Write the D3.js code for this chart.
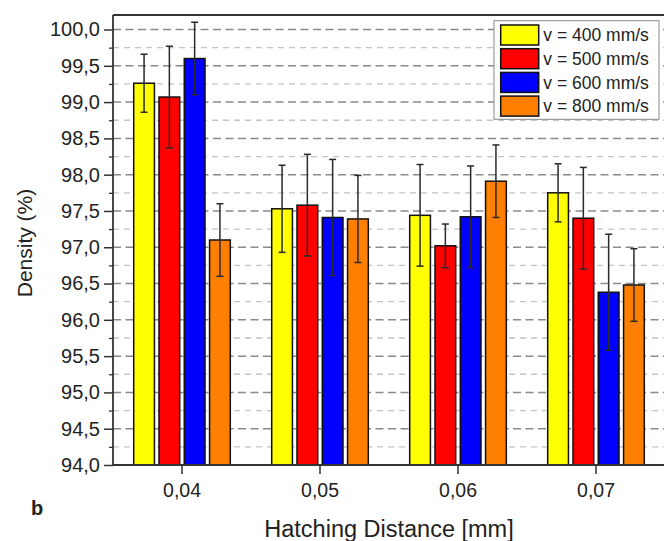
<!DOCTYPE html>
<html><head><meta charset="utf-8">
<script src="https://cdn.jsdelivr.net/npm/d3@7"></script>
<style>html,body{margin:0;padding:0;background:#fff;overflow:hidden}</style>
</head><body>
<svg id="c" width="664" height="541"></svg>
<script>
const categories = ["0,04", "0,05", "0,06", "0,07"];
const seriesNames = ["v = 400 mm/s", "v = 500 mm/s", "v = 600 mm/s", "v = 800 mm/s"];
const seriesColors = ["#ffff00", "#ff0000", "#0000ff", "#ff8000"];
const v400 = [99.26, 97.53, 97.44, 97.75];
const v500 = [99.07, 97.58, 97.02, 97.40];
const v600 = [99.60, 97.41, 97.42, 96.38];
const v800 = [97.10, 97.39, 97.91, 96.48];
const e400 = [0.40, 0.60, 0.70, 0.40];
const e500 = [0.70, 0.70, 0.30, 0.70];
const e600 = [0.50, 0.80, 0.70, 0.80];
const e800 = [0.50, 0.60, 0.50, 0.50];
const yMajorTicks = [94, 94.5, 95, 95.5, 96, 96.5, 97, 97.5, 98, 98.5, 99, 99.5, 100];
const yMinorTicks = [94.25, 94.75, 95.25, 95.75, 96.25, 96.75, 97.25, 97.75, 98.25, 98.75, 99.25, 99.75];

const values = [v400, v500, v600, v800];
const errors = [e400, e500, e600, e800];

const font = "'Liberation Sans', Arial, sans-serif";
const svg = d3.select("#c");
const L = 113, R = 665, T = 15, B = 465;

const x0 = d3.scaleBand().domain(categories).range([L, R]).paddingInner(0.3).paddingOuter(0.15);
const x1 = d3.scaleBand().domain(seriesNames).range([0, x0.bandwidth()]).paddingInner(0.18);
const y = d3.scaleLinear().domain([94, 100.2]).range([B, T]);
const fmt = v => d3.format(".1f")(v).replace(".", ",");

// grid lines
svg.append("g").selectAll("line").data(yMinorTicks).join("line")
  .attr("x1", L).attr("x2", R).attr("y1", d => y(d)).attr("y2", d => y(d))
  .attr("stroke", "#c4c4c4").attr("stroke-width", 1.3).attr("stroke-dasharray", "6,5");
svg.append("g").selectAll("line").data(yMajorTicks.filter(d => d > 94)).join("line")
  .attr("x1", L).attr("x2", R).attr("y1", d => y(d)).attr("y2", d => y(d))
  .attr("stroke", "#8a8a8a").attr("stroke-width", 1.5).attr("stroke-dasharray", "8,4.5");

// bars
const rows = [];
categories.forEach((c, i) => seriesNames.forEach((s, j) => rows.push({c, s, j, v: values[j][i], e: errors[j][i]})));
const g = svg.append("g");
g.selectAll("rect").data(rows).join("rect")
  .attr("x", d => x0(d.c) + x1(d.s)).attr("width", x1.bandwidth())
  .attr("y", d => y(d.v)).attr("height", d => B - y(d.v))
  .attr("fill", d => seriesColors[d.j]).attr("stroke", "#111").attr("stroke-width", 1.5);

// error bars
const eb = svg.append("g").attr("stroke", "#2a2a2a").attr("stroke-width", 1.5);
rows.forEach(d => {
  const cx = x0(d.c) + x1(d.s) + x1.bandwidth() / 2;
  eb.append("line").attr("x1", cx).attr("x2", cx).attr("y1", y(d.v + d.e)).attr("y2", y(d.v - d.e));
  eb.append("line").attr("x1", cx - 3.5).attr("x2", cx + 3.5).attr("y1", y(d.v + d.e)).attr("y2", y(d.v + d.e));
  eb.append("line").attr("x1", cx - 3.5).attr("x2", cx + 3.5).attr("y1", y(d.v - d.e)).attr("y2", y(d.v - d.e));
});

// axes
const yAxis = svg.append("g").attr("transform", `translate(${L},0)`)
  .call(d3.axisLeft(y).tickValues(yMajorTicks).tickFormat(fmt).tickSize(9).tickPadding(4));
yAxis.select(".domain").remove();
yAxis.selectAll(".tick line").attr("stroke", "#333").attr("stroke-width", 1.5);
yAxis.selectAll("text").attr("font-family", font).attr("font-size", "20px").attr("fill", "#222");
svg.append("g").attr("transform", `translate(${L},0)`)
  .call(d3.axisLeft(y).tickValues(yMinorTicks).tickFormat("").tickSize(4))
  .call(a => a.select(".domain").remove())
  .selectAll(".tick line").attr("stroke", "#333").attr("stroke-width", 1.3);

const xAxis = svg.append("g").attr("transform", `translate(0,${B})`)
  .call(d3.axisBottom(x0).tickSize(9).tickPadding(9));
xAxis.select(".domain").remove();
xAxis.selectAll(".tick line").attr("stroke", "#333").attr("stroke-width", 1.5);
xAxis.selectAll("text").attr("font-family", font).attr("font-size", "19.5px").attr("fill", "#222");

// frame
svg.append("line").attr("x1", L).attr("x2", L).attr("y1", T).attr("y2", B).attr("stroke", "#333").attr("stroke-width", 1.8);
svg.append("line").attr("x1", L).attr("x2", R).attr("y1", B).attr("y2", B).attr("stroke", "#333").attr("stroke-width", 1.8);
svg.append("line").attr("x1", L).attr("x2", R).attr("y1", T).attr("y2", T).attr("stroke", "#333").attr("stroke-width", 1.8);

// titles
svg.append("text").attr("x", (L + R) / 2).attr("y", 537).attr("text-anchor", "middle")
  .attr("font-family", font).attr("font-size", "23.5px").attr("fill", "#222").text("Hatching Distance [mm]");
svg.append("text").attr("transform", `translate(32,${(T + B) / 2 + 3}) rotate(-90)`).attr("text-anchor", "middle")
  .attr("font-family", font).attr("font-size", "21px").attr("fill", "#222").text("Density (%)");
svg.append("text").attr("x", 31).attr("y", 515).attr("font-family", font).attr("font-weight", "bold")
  .attr("font-size", "20px").attr("fill", "#222").text("b");

// legend
const lg = svg.append("g").attr("transform", "translate(494,20.7)");
lg.append("rect").attr("width", 165).attr("height", 98.6).attr("fill", "#fff").attr("stroke", "#888").attr("stroke-width", 1);
const li = lg.selectAll("g.item").data(seriesNames).join("g").attr("class", "item")
  .attr("transform", (d, i) => `translate(6.7,${4.3 + i * 23.7})`);
li.append("rect").attr("width", 38).attr("height", 20).attr("fill", (d, i) => seriesColors[i])
  .attr("stroke", "#111").attr("stroke-width", 1.5);
li.append("text").attr("x", 42.6).attr("y", 10).attr("dy", "0.35em")
  .attr("font-family", font).attr("font-size", "17.5px").attr("fill", "#222").text(d => d);
</script>
</body></html>
